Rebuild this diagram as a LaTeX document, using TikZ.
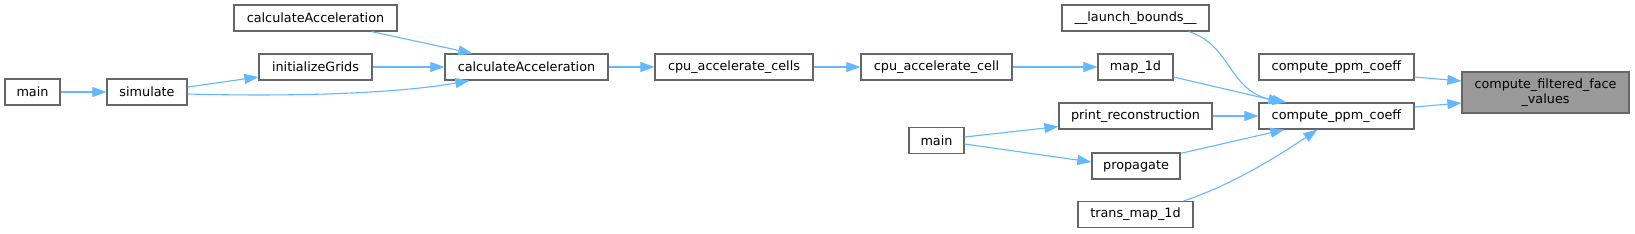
\documentclass[tikz,border=0pt]{standalone}
\usepackage{fontspec}
\setmainfont{DejaVu Sans}
\usetikzlibrary{arrows.meta,calc}
\definecolor{edgeblue}{HTML}{63B8FF}
\definecolor{boxgray}{HTML}{666666}
\definecolor{fillgray}{HTML}{999999}
\tikzset{
  fn/.style={draw=boxgray, line width=1.2pt, fill=white, inner sep=0pt, minimum height=26pt,
    font=\fontsize{12.8}{14.5}\selectfont, text=black, align=center},
  cur/.style={fn, fill=fillgray, minimum height=41pt},
  call/.style={draw=edgeblue, line width=1.1pt, -{Triangle[length=14pt,width=10pt]}},
}
\begin{document}
\begin{tikzpicture}[x=1pt,y=-1pt]
\useasboundingbox[fill=white] (0,0) rectangle (1635,233);
\node[fn, minimum width=163pt] (calcTop) at (315.5,18) {calculateAcceleration};
\node[fn, minimum width=113pt] (initGrids) at (315.5,67) {initializeGrids};
\node[fn, minimum width=55pt] (mainA) at (32.5,92) {main};
\node[fn, minimum width=80pt] (simulate) at (147,92) {simulate};
\node[fn, minimum width=163pt] (calcAcc) at (526.5,67) {calculateAcceleration};
\node[fn, minimum width=158pt] (cells) at (734,67) {cpu\_accelerate\_cells};
\node[fn, minimum width=151pt] (cell) at (936.5,67) {cpu\_accelerate\_cell};
\node[fn, minimum width=147pt] (launch) at (1135.5,18) {\_\_launch\_bounds\_\_};
\node[fn, minimum width=75pt] (mapA) at (1135.5,67) {map\_1d};
\node[fn, minimum width=153pt] (printrec) at (1135.5,116) {print\_reconstruction};
\node[fn, minimum width=55pt] (mainB) at (936.5,140.5) {main};
\node[fn, minimum width=88pt] (propagate) at (1136,166) {propagate};
\node[fn, minimum width=115pt] (transmap) at (1135.5,214.5) {trans\_map\_1d};
\node[fn, minimum width=155pt] (ppmTop) at (1336.5,67) {compute\_ppm\_coeff};
\node[fn, minimum width=155pt] (ppm) at (1336.5,116) {compute\_ppm\_coeff};
\node[cur, minimum width=167pt] (cffv) at (1545.5,92.5) {compute\_filtered\_face\\\_values};

\draw[call] (mainA) -- (simulate);
\draw[call] ($(simulate.east)+(0,-5)$) -- ($(initGrids.west)+(0,10)$);
\draw[call] ($(simulate.east)+(0,2)$) .. controls (300,97) and (400,93) .. ($(calcAcc.south west)+(25,0)$);
\draw[call] ($(calcTop.south east)+(-26,0)$) -- ($(calcAcc.north west)+(28,0)$);
\draw[call] (initGrids) -- (calcAcc);
\draw[call] (calcAcc) -- (cells);
\draw[call] (cells) -- (cell);
\draw[call] (cell) -- (mapA);
\draw[call] ($(mapA.east)+(0,10)$) -- ($(ppm.north west)+(24,0)$);
\draw[call] ($(launch.south east)+(-21,0)$) .. controls (1232,45) and (1228,92) .. ($(ppm.north west)+(28,0)$);
\draw[call] (printrec) -- (ppm);
\draw[call] ($(mainB.east)+(0,-3.5)$) -- ($(printrec.south west)+(0,-3)$);
\draw[call] ($(mainB.east)+(0,3.5)$) -- ($(propagate.west)+(0,-4)$);
\draw[call] ($(propagate.north east)+(0,1)$) -- ($(ppm.south west)+(26,0)$);
\draw[call] ($(transmap.north east)+(-10,0)$) .. controls (1230,186) and (1280,155) .. ($(ppm.south west)+(59,0)$);
\draw[call] ($(ppmTop.east)+(0,10)$) -- ($(cffv.west)+(0,-11.5)$);
\draw[call] ($(ppm.east)+(0,-9)$) -- ($(cffv.west)+(0,10.5)$);
\end{tikzpicture}
\end{document}
